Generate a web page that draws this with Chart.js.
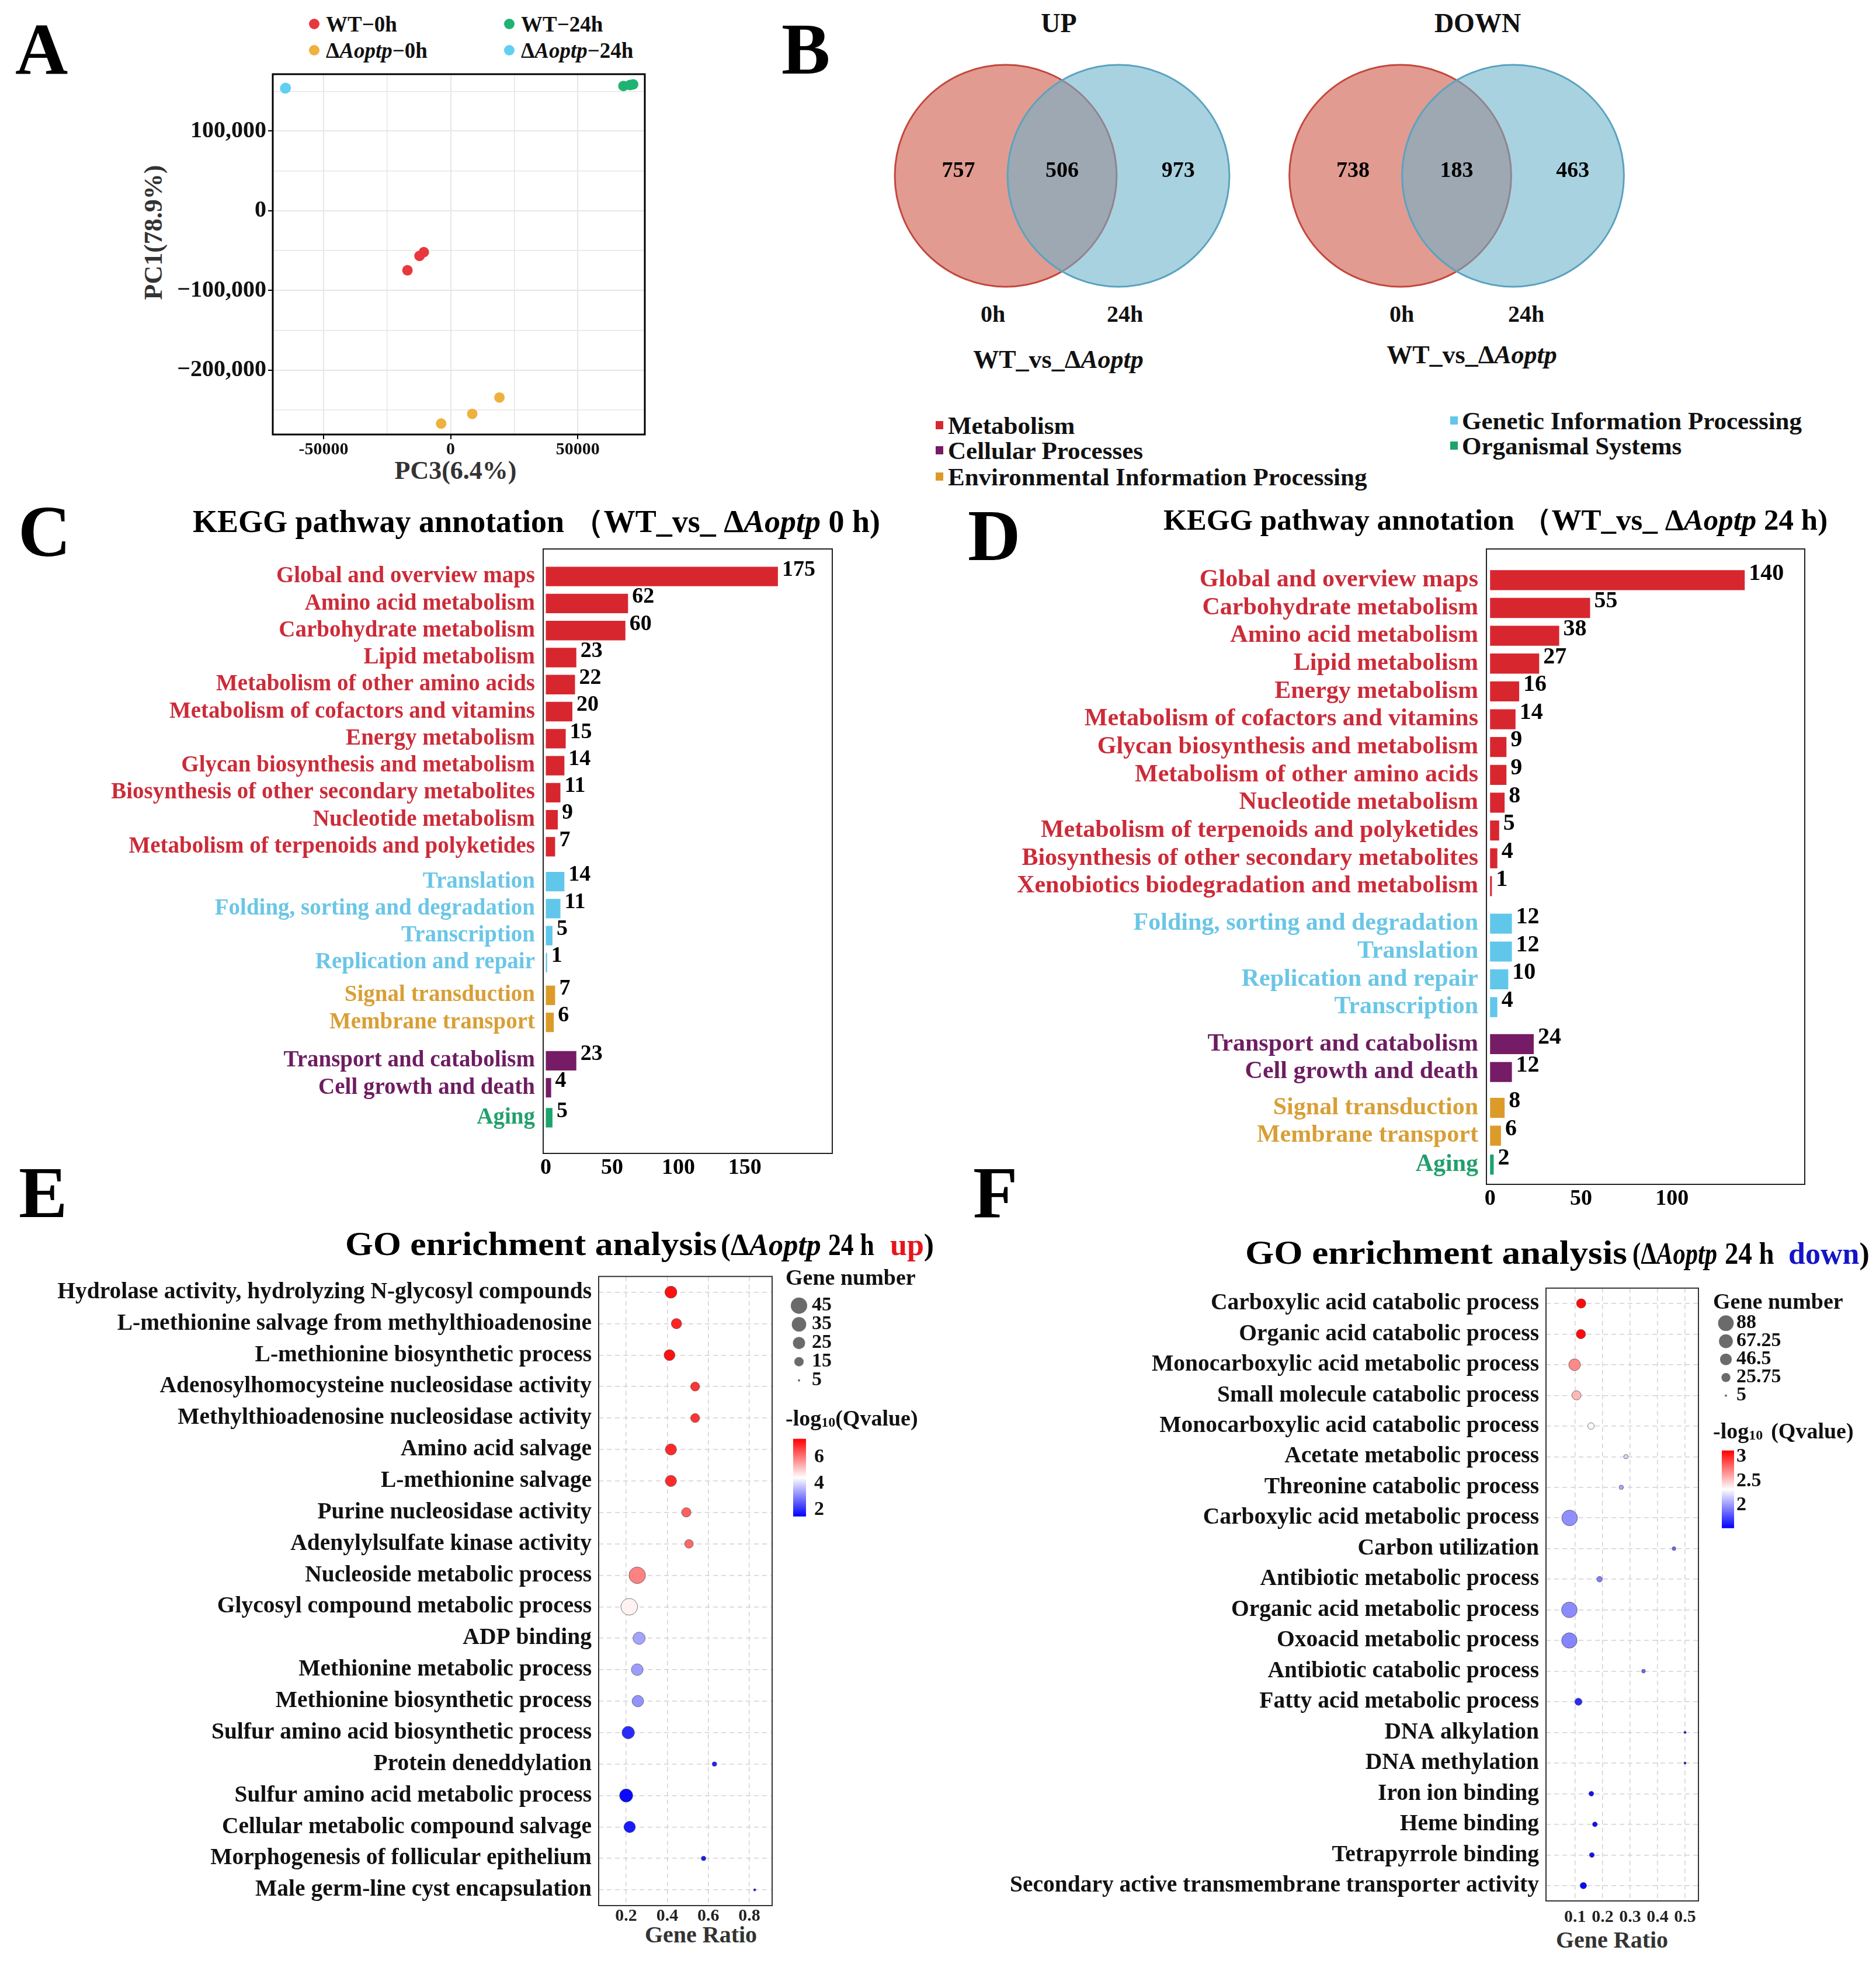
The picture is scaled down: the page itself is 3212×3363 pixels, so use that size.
<!DOCTYPE html>
<html>
<head>
<meta charset="utf-8">
<title>Transcriptome overview</title>
<script src="https://cdn.jsdelivr.net/npm/chart.js@4.4.1/dist/chart.umd.min.js"></script>
<style>
  html, body { margin: 0; padding: 0; background: #fff; }
  body { position: relative; width: 3212px; height: 3363px; overflow: hidden;
         font-family: "Liberation Serif", "Times New Roman", serif; font-weight: bold; color: #111; }
  .t { position: absolute; white-space: nowrap; line-height: 1; transform: translateY(-50%); }
  .c { transform: translate(-50%, -50%); }
  .letter { font-size: 125px; color: #000; }
  .dot { position: absolute; width: 18px; height: 18px; border-radius: 50%; }
  .sq { position: absolute; width: 13px; height: 14px; }
  .go { font-size: 56px; color: #000; z-index: 2; transform-origin: left center; }
  .go2 { font-size: 52px; color: #000; z-index: 2; transform-origin: left center; }
  canvas { position: absolute; }
</style>
</head>
<body>

<!-- panel letters -->
<div class="t letter" style="left:26px;top:84px">A</div>
<div class="t letter" style="left:1338px;top:84px">B</div>
<div class="t letter" style="left:31px;top:910px">C</div>
<div class="t letter" style="left:1657px;top:917px">D</div>
<div class="t letter" style="left:32px;top:2042px">E</div>
<div class="t letter" style="left:1666px;top:2042px">F</div>

<!-- A legend + axis titles -->
<div class="dot" style="left:529px;top:32px;background:#e8383d"></div>
<div class="t" style="left:558px;top:41px;font-size:37px">WT−0h</div>
<div class="dot" style="left:529px;top:77px;background:#eeb13f"></div>
<div class="t" style="left:558px;top:86px;font-size:37px">Δ<i>Aoptp</i>−0h</div>
<div class="dot" style="left:863px;top:32px;background:#1fb373"></div>
<div class="t" style="left:892px;top:41px;font-size:37px">WT−24h</div>
<div class="dot" style="left:863px;top:77px;background:#5fd0f2"></div>
<div class="t" style="left:892px;top:86px;font-size:37px">Δ<i>Aoptp</i>−24h</div>
<div class="t" style="left:263px;top:398px;transform:translate(-50%,-50%) rotate(-90deg);font-size:44px;color:#333">PC1(78.9%)</div>
<div class="t c" style="left:780px;top:806px;font-size:44px;color:#333">PC3(6.4%)</div>

<!-- B texts -->
<div class="t c" style="left:1813px;top:40px;font-size:46px">UP</div>
<div class="t c" style="left:2530px;top:40px;font-size:46px">DOWN</div>
<div class="t c" style="left:1700px;top:538px;font-size:40px">0h</div>
<div class="t c" style="left:1926px;top:538px;font-size:40px">24h</div>
<div class="t c" style="left:2400px;top:538px;font-size:40px">0h</div>
<div class="t c" style="left:2613px;top:538px;font-size:40px">24h</div>
<div class="t c" style="left:1812px;top:616px;font-size:44px">WT_vs_Δ<i>Aoptp</i></div>
<div class="t c" style="left:2520px;top:608px;font-size:44px">WT_vs_Δ<i>Aoptp</i></div>

<div class="sq" style="left:1602px;top:721px;background:#d8262f"></div>
<div class="t" style="left:1623px;top:728px;font-size:43px">Metabolism</div>
<div class="sq" style="left:1602px;top:764px;background:#761b65"></div>
<div class="t" style="left:1623px;top:771px;font-size:43px">Cellular Processes</div>
<div class="sq" style="left:1602px;top:809px;background:#dc9b29"></div>
<div class="t" style="left:1623px;top:816px;font-size:43px">Environmental Information Processing</div>
<div class="sq" style="left:2483px;top:713px;background:#60c7eb"></div>
<div class="t" style="left:2503px;top:720px;font-size:43px">Genetic Information Processing</div>
<div class="sq" style="left:2483px;top:756px;background:#1ba46c"></div>
<div class="t" style="left:2503px;top:763px;font-size:43px">Organismal Systems</div>

<!-- C / D titles -->
<div class="t" style="left:330px;top:893px;font-size:54px;color:#000">KEGG pathway annotation （WT_vs_ Δ<i>Aoptp</i> 0 h)</div>
<div class="t" style="left:1992px;top:890px;font-size:51px;color:#000">KEGG pathway annotation （WT_vs_ Δ<i>Aoptp</i> 24 h)</div>

<!-- E / F titles (pieces squeezed like the original text boxes) -->
<div class="t go" style="left:591px;top:2130px;transform:translateY(-50%) scaleX(1.10)">GO enrichment analysis</div>
<div class="t go2" style="left:1234px;top:2132px;transform:translateY(-50%) scaleX(0.97)">(Δ<i>Aoptp</i></div>
<div class="t go2" style="left:1418px;top:2132px;transform:translateY(-50%) scaleX(0.84)">24 h</div>
<div class="t go2" style="left:1524px;top:2132px;transform:translateY(-50%) scaleX(1.0)"><span style="color:#e8141c">up</span>)</div>
<div class="t go" style="left:2132px;top:2145px;transform:translateY(-50%) scaleX(1.13)">GO enrichment analysis</div>
<div class="t go2" style="left:2795px;top:2147px;transform:translateY(-50%) scaleX(0.82)">(Δ<i>Aoptp</i></div>
<div class="t go2" style="left:2953px;top:2147px;transform:translateY(-50%) scaleX(0.9)">24 h</div>
<div class="t go2" style="left:3062px;top:2147px;transform:translateY(-50%) scaleX(1.0)"><span style="color:#1414c8">down</span>)</div>
<div class="t c" style="left:1200px;top:3313px;font-size:40px;color:#333">Gene Ratio</div>
<div class="t c" style="left:2760px;top:3322px;font-size:40px;color:#333">Gene Ratio</div>

<script>
const FONT = '"Liberation Serif", "Times New Roman", serif';

// ---------- A: PCA scores ----------
const pcaGroups = ['WT−0h', 'ΔAoptp−0h', 'WT−24h', 'ΔAoptp−24h'];
const wt0hPC3 = [-17000, -12250, -10550];
const wt0hPC1 = [-74800, -56700, -52000];
const ko0hPC3 = [-3750, 8500, 19200];
const ko0hPC1 = [-267300, -255100, -234600];
const wt24hPC3 = [68000, 70600, 71800];
const wt24hPC1 = [156700, 157900, 158700];
const ko24hPC3 = [-65000, -64900, -65100];
const ko24hPC1 = [153900, 154200, 153700];
const pcaXTicks = [-50000, -25000, 0, 25000, 50000];
const pcaYTicks = [150000, 100000, 50000, 0, -50000, -100000, -150000, -200000, -250000];

// ---------- B: Venn counts (0h only, shared, 24h only) ----------
const vennComparisons = ['UP', 'DOWN'];
const vennUp = [757, 506, 973];
const vennDown = [738, 183, 463];

// ---------- C: KEGG 0 h ----------
const M = 'Metabolism', G = 'Genetic Information Processing', E = 'Environmental Information Processing',
      C = 'Cellular Processes', O = 'Organismal Systems';
const kegg0hTerms = ['Global and overview maps', 'Amino acid metabolism', 'Carbohydrate metabolism',
  'Lipid metabolism', 'Metabolism of other amino acids', 'Metabolism of cofactors and vitamins',
  'Energy metabolism', 'Glycan biosynthesis and metabolism', 'Biosynthesis of other secondary metabolites',
  'Nucleotide metabolism', 'Metabolism of terpenoids and polyketides', 'Translation',
  'Folding, sorting and degradation', 'Transcription', 'Replication and repair', 'Signal transduction',
  'Membrane transport', 'Transport and catabolism', 'Cell growth and death', 'Aging'];
const kegg0hCounts = [175, 62, 60, 23, 22, 20, 15, 14, 11, 9, 7, 14, 11, 5, 1, 7, 6, 23, 4, 5];
const kegg0hClass = [M, M, M, M, M, M, M, M, M, M, M, G, G, G, G, E, E, C, C, O];
const kegg0hXTicks = [0, 50, 100, 150];

// ---------- D: KEGG 24 h ----------
const kegg24hTerms = ['Global and overview maps', 'Carbohydrate metabolism', 'Amino acid metabolism',
  'Lipid metabolism', 'Energy metabolism', 'Metabolism of cofactors and vitamins',
  'Glycan biosynthesis and metabolism', 'Metabolism of other amino acids', 'Nucleotide metabolism',
  'Metabolism of terpenoids and polyketides', 'Biosynthesis of other secondary metabolites',
  'Xenobiotics biodegradation and metabolism', 'Folding, sorting and degradation', 'Translation',
  'Replication and repair', 'Transcription', 'Transport and catabolism', 'Cell growth and death',
  'Signal transduction', 'Membrane transport', 'Aging'];
const kegg24hCounts = [140, 55, 38, 27, 16, 14, 9, 9, 8, 5, 4, 1, 12, 12, 10, 4, 24, 12, 8, 6, 2];
const kegg24hClass = [M, M, M, M, M, M, M, M, M, M, M, M, G, G, G, G, C, C, E, E, O];
const kegg24hXTicks = [0, 50, 100];

// ---------- E: GO up ----------
const goUpTerms = ['Hydrolase activity, hydrolyzing N-glycosyl compounds',
  'L-methionine salvage from methylthioadenosine', 'L-methionine biosynthetic process',
  'Adenosylhomocysteine nucleosidase activity', 'Methylthioadenosine nucleosidase activity',
  'Amino acid salvage', 'L-methionine salvage', 'Purine nucleosidase activity',
  'Adenylylsulfate kinase activity', 'Nucleoside metabolic process', 'Glycosyl compound metabolic process',
  'ADP binding', 'Methionine metabolic process', 'Methionine biosynthetic process',
  'Sulfur amino acid biosynthetic process', 'Protein deneddylation', 'Sulfur amino acid metabolic process',
  'Cellular metabolic compound salvage', 'Morphogenesis of follicular epithelium',
  'Male germ-line cyst encapsulation'];
const goUpRatio = [0.418, 0.445, 0.411, 0.536, 0.536, 0.418, 0.418, 0.493, 0.506, 0.254,
  0.215, 0.263, 0.254, 0.257, 0.210, 0.630, 0.200, 0.217, 0.577, 0.826];
const goUpCount = [24, 18, 20, 14, 14, 21, 21, 15, 13, 46, 47, 25, 23, 22, 26, 6, 29, 22, 6, 5];
const goUpQ = [7.2, 7.0, 7.2, 6.8, 6.8, 6.9, 6.9, 6.3, 6.2, 5.9, 4.6, 3.4, 3.3, 3.2, 2.0, 1.9, 1.6, 1.8, 1.8, 1.7];
const goUpXTicks = [0.2, 0.4, 0.6, 0.8];
const goUpSizeBreaks = [45, 35, 25, 15, 5];
const goUpQTicks = [6, 4, 2];

// ---------- F: GO down ----------
const goDownTerms = ['Carboxylic acid catabolic process', 'Organic acid catabolic process',
  'Monocarboxylic acid metabolic process', 'Small molecule catabolic process',
  'Monocarboxylic acid catabolic process', 'Acetate metabolic process', 'Threonine catabolic process',
  'Carboxylic acid metabolic process', 'Carbon utilization', 'Antibiotic metabolic process',
  'Organic acid metabolic process', 'Oxoacid metabolic process', 'Antibiotic catabolic process',
  'Fatty acid metabolic process', 'DNA alkylation', 'DNA methylation', 'Iron ion binding',
  'Heme binding', 'Tetrapyrrole binding', 'Secondary active transmembrane transporter activity'];
const goDownRatio = [0.122, 0.121, 0.098, 0.105, 0.158, 0.285, 0.268, 0.080, 0.460, 0.189,
  0.079, 0.079, 0.349, 0.112, 0.500, 0.500, 0.159, 0.172, 0.161, 0.130];
const goDownCount = [28, 28, 46, 27, 13, 7, 7, 88, 6, 10, 88, 85, 6, 16, 5, 5, 8, 8, 8, 13];
const goDownQ = [3.1, 3.1, 2.7, 2.55, 2.35, 2.2, 2.05, 1.97, 1.85, 1.92, 1.96, 1.94, 1.85, 1.65,
  1.6, 1.6, 1.57, 1.56, 1.57, 1.55];
const goDownXTicks = [0.1, 0.2, 0.3, 0.4, 0.5];
const goDownSizeBreaks = [88, 67.25, 46.5, 25.75, 5];
const goDownQTicks = [3, 2.5, 2];

// ---------- styles ----------
const pcaColors = ['#e8383d', '#eeb13f', '#1fb373', '#5fd0f2'];
const classBar = { [M]: '#d8262f', [G]: '#60c7eb', [E]: '#dc9b29', [C]: '#761b65', [O]: '#1ba46c' };
const classText = { [M]: '#cc2b38', [G]: '#6ac6e6', [E]: '#d89f36', [C]: '#6d1d61', [O]: '#22a06d' };

function makeCanvas(left, top, width, height) {
  const c = document.createElement('canvas');
  c.width = width; c.height = height;
  c.style.left = left + 'px'; c.style.top = top + 'px';
  c.style.width = width + 'px'; c.style.height = height + 'px';
  document.body.appendChild(c);
  return c;
}

function base(extra) {
  return Object.assign({
    responsive: false, devicePixelRatio: 1, animation: false, events: []
  }, extra);
}

const hidden = { legend: { display: false }, tooltip: { enabled: false } };

// box around the plotting area
const framePlugin = {
  id: 'frame',
  afterDraw(chart, args, opts) {
    const { ctx, chartArea: a } = chart;
    ctx.save();
    ctx.strokeStyle = opts.color || '#000';
    ctx.lineWidth = opts.width || 2;
    ctx.strokeRect(a.left, a.top, a.right - a.left, a.bottom - a.top);
    ctx.restore();
  }
};

function fixedTicks(values) {
  return scale => { scale.ticks = values.map(v => ({ value: v })); };
}

// ---------- A ----------
const pcaX = [wt0hPC3, ko0hPC3, wt24hPC3, ko24hPC3];
const pcaY = [wt0hPC1, ko0hPC1, wt24hPC1, ko24hPC1];
const isMajorX = v => Math.abs(v % 50000) < 1;
const isMajorY = v => Math.abs(v % 100000) < 1;
const fmtThousands = v => (v < 0 ? '−' : '') + Math.abs(v).toLocaleString('en-US');

new Chart(makeCanvas(150, 100, 990, 720), {
  type: 'scatter',
  data: {
    datasets: pcaGroups.map((g, i) => ({
      label: g,
      data: pcaX[i].map((x, j) => ({ x: x, y: pcaY[i][j] })),
      backgroundColor: pcaColors[i],
      borderWidth: 0,
      pointRadius: 9
    }))
  },
  options: base({
    layout: { padding: { top: 24, right: 36, left: 0, bottom: 0 } },
    scales: {
      x: {
        type: 'linear', min: -70000, max: 76400,
        afterBuildTicks: fixedTicks(pcaXTicks),
        ticks: { callback: v => isMajorX(v) ? String(v) : '', color: '#111', padding: 0, maxRotation: 0,
                 autoSkip: false, font: { family: FONT, size: 30, weight: 'bold' } },
        grid: { color: '#e6e6e6', lineWidth: c => (c.tick && isMajorX(c.tick.value)) ? 2 : 1.5,
                tickColor: c => (c.tick && isMajorX(c.tick.value)) ? '#000' : 'rgba(0,0,0,0)',
                tickLength: 8, tickWidth: 2 },
        border: { display: false },
        afterFit: s => { s.height = 76; }
      },
      y: {
        type: 'linear', min: -281000, max: 171500,
        afterBuildTicks: fixedTicks(pcaYTicks),
        ticks: { callback: v => isMajorY(v) ? fmtThousands(v) : '', color: '#111', padding: 3,
                 autoSkip: false, font: { family: FONT, size: 40, weight: 'bold' } },
        grid: { color: '#e6e6e6', lineWidth: c => (c.tick && isMajorY(c.tick.value)) ? 2 : 1.5,
                tickColor: c => (c.tick && isMajorY(c.tick.value)) ? '#000' : 'rgba(0,0,0,0)',
                tickLength: 8, tickWidth: 2 },
        border: { display: false },
        afterFit: s => { s.width = 317; }
      }
    },
    plugins: Object.assign({ frame: { color: '#000', width: 3 } }, hidden)
  }),
  plugins: [framePlugin]
});

// ---------- B ----------
const vennLayout = { sep: 1, pair: 3.5, r: 0.984 };
const vennCounts = [vennUp, vennDown];
const vennRadius = ctx => {
  const x = ctx.chart.scales.x;
  return x.getPixelForValue(vennLayout.r) - x.getPixelForValue(0);
};
const vennLabels = {
  id: 'vennLabels',
  afterDatasetsDraw(chart) {
    const { ctx, scales } = chart;
    ctx.save();
    ctx.font = 'bold 38px ' + FONT;
    ctx.fillStyle = '#000';
    ctx.textAlign = 'center';
    ctx.textBaseline = 'middle';
    vennCounts.forEach((counts, k) => {
      const x0 = k * vennLayout.pair;
      const xs = [x0 - 0.42, x0 + vennLayout.sep / 2, x0 + vennLayout.sep + 0.53];
      counts.forEach((n, j) => {
        ctx.fillText(String(n), scales.x.getPixelForValue(xs[j]), scales.y.getPixelForValue(0.04));
      });
    });
    ctx.restore();
  }
};

new Chart(makeCanvas(1330, 0, 1600, 700), {
  type: 'scatter',
  data: {
    datasets: [
      { label: '24h', data: vennComparisons.map((c, k) => ({ x: k * vennLayout.pair + vennLayout.sep, y: 0 })),
        backgroundColor: 'rgba(107,178,202,0.58)', borderColor: '#5aa3bf', borderWidth: 3, pointRadius: vennRadius },
      { label: '0h', data: vennComparisons.map((c, k) => ({ x: k * vennLayout.pair, y: 0 })),
        backgroundColor: '#e29b91', borderColor: '#c4473d', borderWidth: 3, pointRadius: vennRadius }
    ]
  },
  options: base({
    layout: { padding: 0 },
    scales: {
      x: { type: 'linear', display: false, min: -2.031, max: 6.259 },
      y: { type: 'linear', display: false, min: -2.067, max: 1.5596 }
    },
    plugins: hidden
  }),
  plugins: [vennLabels]
});

// ---------- C / D ----------
function rowPositions(classes, gaps) {
  const pos = [];
  let p = 0, g = 0;
  classes.forEach((c, i) => {
    if (i > 0 && c !== classes[i - 1]) p += gaps[g++];
    pos.push(p);
    p += 1;
  });
  return pos;
}

function barValuesPlugin(size) {
  return {
    id: 'barValues',
    afterDatasetsDraw(chart) {
      const { ctx } = chart;
      const meta = chart.getDatasetMeta(0);
      const data = chart.data.datasets[0].data;
      ctx.save();
      ctx.font = 'bold ' + size + 'px ' + FONT;
      ctx.fillStyle = '#000';
      ctx.textBaseline = 'middle';
      ctx.textAlign = 'left';
      meta.data.forEach((bar, i) => ctx.fillText(String(data[i].x), bar.x + 7, bar.y - 11));
      ctx.restore();
    }
  };
}

function keggChart(canvas, cfg) {
  const pos = rowPositions(cfg.classes, cfg.gaps);
  return new Chart(canvas, {
    type: 'bar',
    data: {
      datasets: [{
        data: cfg.counts.map((v, i) => ({ x: v, y: pos[i] })),
        backgroundColor: cfg.classes.map(c => classBar[c]),
        borderWidth: 0, categoryPercentage: 0.8, barPercentage: 0.9
      }]
    },
    options: base({
      indexAxis: 'y',
      layout: { padding: cfg.padding },
      scales: {
        x: {
          type: 'linear', min: -2, max: cfg.xMax,
          afterBuildTicks: fixedTicks(cfg.xTicks),
          ticks: { color: '#000', padding: 2, font: { family: FONT, size: 38, weight: 'bold' } },
          grid: { display: false, drawTicks: false }, border: { display: false },
          afterFit: s => { s.height = cfg.xHeight; }
        },
        y: {
          type: 'linear', reverse: true, offset: false, min: cfg.yMin, max: cfg.yMax,
          afterBuildTicks: fixedTicks(pos),
          ticks: { autoSkip: false, callback: (v, i) => cfg.terms[i], padding: 14,
                   color: c => classText[cfg.classes[c.index]],
                   font: { family: FONT, size: cfg.labelSize, weight: 'bold' } },
          grid: { display: false, drawTicks: false }, border: { display: false },
          afterFit: s => { s.width = cfg.yWidth; }
        }
      },
      plugins: Object.assign({ frame: { color: '#222', width: 2 } }, hidden)
    }),
    plugins: [framePlugin, barValuesPlugin(cfg.valueSize)]
  });
}

const kegg0hGaps = [0.29, 0.21, 0.42, 0.11];
const kegg24hGaps = [0.35, 0.33, 0.29, 0.04];

keggChart(makeCanvas(150, 900, 1300, 1140), {
  terms: kegg0hTerms, counts: kegg0hCounts, classes: kegg0hClass, gaps: kegg0hGaps,
  xTicks: kegg0hXTicks, xMax: 216, yMin: -1.02, yMax: 21.35,
  padding: { top: 40, right: 25, left: 0, bottom: 0 }, yWidth: 780, xHeight: 65,
  labelSize: 39, valueSize: 38
});

keggChart(makeCanvas(1600, 900, 1612, 1180), {
  terms: kegg24hTerms, counts: kegg24hCounts, classes: kegg24hClass, gaps: kegg24hGaps,
  xTicks: kegg24hXTicks, xMax: 173, yMin: -1.12, yMax: 21.72,
  padding: { top: 40, right: 122, left: 0, bottom: 0 }, yWidth: 945, xHeight: 52,
  labelSize: 42, valueSize: 40
});

// ---------- E / F ----------
function qColor(v, lo, hi) {
  const t = Math.min(1, Math.max(0, (v - lo) / (hi - lo)));
  let r, g, b;
  if (t < 0.5) { const u = t / 0.5; r = g = Math.round(255 * u); b = 255; }
  else { const u = (t - 0.5) / 0.5; r = 255; g = b = Math.round(255 * (1 - u)); }
  return 'rgb(' + r + ',' + g + ',' + b + ')';
}

const sizeUp = n => 2 + 12 * Math.sqrt(Math.max(n - 5, 0) / 40);
const sizeDown = n => 2 + 11.4 * Math.sqrt(Math.max(n - 5, 0) / 83);

function goLegendPlugin(cfg) {
  const L = cfg.legend;
  return {
    id: 'goLegend',
    afterDraw(chart) {
      const { ctx, chartArea: a } = chart;
      const x0 = a.right + L.dx;
      ctx.save();
      ctx.textBaseline = 'middle';
      ctx.textAlign = 'left';
      ctx.fillStyle = '#111';
      ctx.font = 'bold 38px ' + FONT;
      ctx.fillText('Gene number', x0, a.top + L.titleY);
      cfg.sizeBreaks.forEach((n, i) => {
        const y = a.top + L.rowY + i * L.rowStep;
        ctx.fillStyle = '#6b6b6b';
        ctx.beginPath();
        ctx.arc(x0 + L.dotX, y, cfg.size(n), 0, Math.PI * 2);
        ctx.fill();
        ctx.fillStyle = '#111';
        ctx.font = 'bold 34px ' + FONT;
        ctx.fillText(String(n), x0 + L.labelX, y);
      });
      // colour bar title
      const ty = a.top + L.qTitleY;
      let tx = x0;
      ctx.font = 'bold 38px ' + FONT;
      ctx.fillText('-log', tx, ty);
      tx += ctx.measureText('-log').width;
      ctx.font = 'bold 24px ' + FONT;
      ctx.fillText('10', tx, ty + 6);
      tx += ctx.measureText('10').width + L.subGap;
      ctx.font = 'bold 38px ' + FONT;
      ctx.fillText('(Qvalue)', tx, ty);
      // colour bar
      const bx = x0 + L.barX, by = a.top + L.barTop;
      const grad = ctx.createLinearGradient(0, by, 0, by + L.barH);
      grad.addColorStop(0, qColor(cfg.qHi, cfg.qLo, cfg.qHi));
      grad.addColorStop(0.5, '#ffffff');
      grad.addColorStop(1, qColor(cfg.qLo, cfg.qLo, cfg.qHi));
      ctx.fillStyle = grad;
      ctx.fillRect(bx, by, L.barW, L.barH);
      ctx.fillStyle = '#111';
      ctx.font = 'bold 34px ' + FONT;
      cfg.qTicks.forEach(v => {
        const y = by + (cfg.qHi - v) / (cfg.qHi - cfg.qLo) * L.barH;
        ctx.fillText(String(v), x0 + L.qLabelX, y);
      });
      ctx.restore();
    }
  };
}

function goChart(canvas, cfg) {
  return new Chart(canvas, {
    type: 'scatter',
    data: {
      labels: cfg.terms,
      datasets: [{
        data: cfg.terms.map((t, i) => ({ x: cfg.ratio[i], y: t })),
        pointRadius: c => cfg.size(cfg.count[c.dataIndex]),
        backgroundColor: c => qColor(cfg.q[c.dataIndex], cfg.qLo, cfg.qHi),
        borderColor: 'rgba(70,70,70,0.7)',
        borderWidth: 1
      }]
    },
    options: base({
      layout: { padding: cfg.padding },
      scales: {
        x: {
          type: 'linear', min: cfg.xMin, max: cfg.xMax,
          afterBuildTicks: fixedTicks(cfg.xTicks),
          ticks: { callback: v => v.toFixed(1), color: '#222', padding: cfg.xPad, maxRotation: 0, autoSkip: false,
                   font: { family: FONT, size: 30, weight: 'bold' } },
          grid: { color: '#d2d2d2', lineWidth: 1.5, drawTicks: false },
          border: { display: false, dash: [8, 6] },
          afterFit: s => { s.height = cfg.xHeight; }
        },
        y: {
          type: 'category', labels: cfg.terms, offset: true,
          ticks: { autoSkip: false, color: '#111', padding: 12,
                   font: { family: FONT, size: 39.5, weight: 'bold' } },
          grid: { color: '#d2d2d2', lineWidth: 1.5, drawTicks: false, offset: false },
          border: { display: false, dash: [8, 6] },
          afterFit: s => { s.width = cfg.yWidth; }
        }
      },
      plugins: Object.assign({ frame: { color: '#333', width: 2 } }, hidden)
    }),
    plugins: [framePlugin, goLegendPlugin(cfg)]
  });
}

goChart(makeCanvas(40, 2150, 1580, 1213), {
  terms: goUpTerms, ratio: goUpRatio, count: goUpCount, q: goUpQ,
  xTicks: goUpXTicks, xMin: 0.066, xMax: 0.911, qLo: 1.5, qHi: 7.4,
  size: sizeUp, sizeBreaks: goUpSizeBreaks, qTicks: goUpQTicks,
  padding: { top: 31, right: 298, left: 0, bottom: 0 }, yWidth: 985, xHeight: 100, xPad: 0,
  legend: { dx: 23, titleY: 4, rowY: 50, rowStep: 32, dotX: 23, labelX: 45,
            qTitleY: 245, subGap: 0, barX: 13, barTop: 278, barH: 133, barW: 22, qLabelX: 49 }
});

goChart(makeCanvas(1680, 2170, 1532, 1193), {
  terms: goDownTerms, ratio: goDownRatio, count: goDownCount, q: goDownQ,
  xTicks: goDownXTicks, xMin: -0.006, xMax: 0.549, qLo: 1.52, qHi: 3.13,
  size: sizeDown, sizeBreaks: goDownSizeBreaks, qTicks: goDownQTicks,
  padding: { top: 35, right: 304, left: 0, bottom: 0 }, yWidth: 967, xHeight: 108, xPad: 10,
  legend: { dx: 25, titleY: 25, rowY: 60, rowStep: 31, dotX: 22, labelX: 40,
            qTitleY: 247, subGap: 14, barX: 15, barTop: 278, barH: 133, barW: 21, qLabelX: 40 }
});
</script>
</body>
</html>
